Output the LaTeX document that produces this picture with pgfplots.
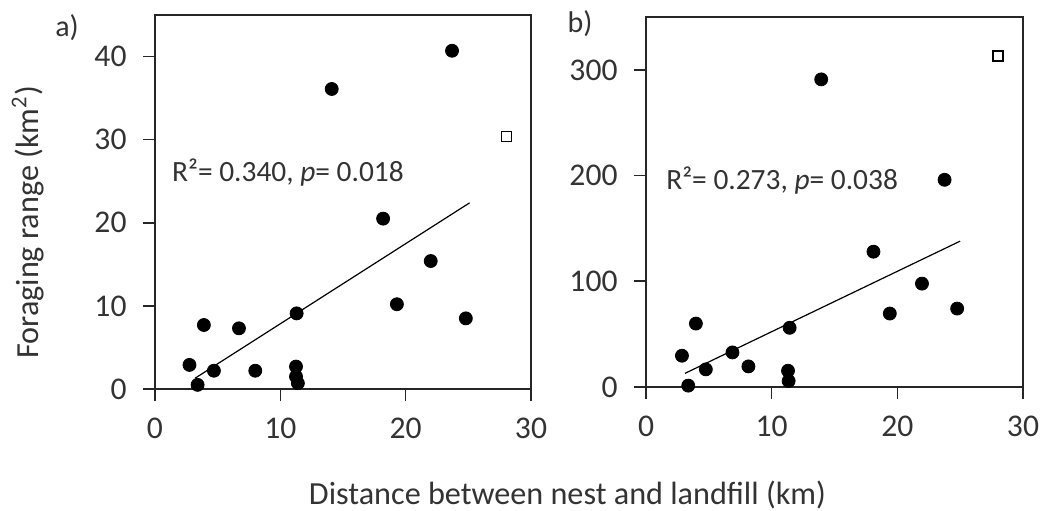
\documentclass[border=0pt]{standalone}
\usepackage{pgfplots}
\pgfplotsset{compat=1.18}
\usepackage{fontspec}
\setmainfont{Carlito}

\pgfplotstableread{
x y
2.75 2.9
3.4 0.5
3.9 7.7
4.7 2.2
6.7 7.3
8.0 2.2
11.3 9.1
11.25 2.7
11.25 1.5
11.4 0.7
14.1 36.1
18.2 20.5
19.3 10.2
22.0 15.4
23.7 40.7
24.8 8.5
}\dataA

\pgfplotstableread{
x y
2.86 29.6
3.36 1.3
3.97 60
4.76 16.7
6.88 32.7
8.15 19.5
11.43 56
11.3 15.4
11.35 5.7
13.94 291
18.1 128
19.4 69.5
21.96 97.8
23.76 196
24.76 74.2
}\dataB

\begin{document}
\begin{tikzpicture}[font=\fontsize{14pt}{16.8pt}\selectfont]
\pgfplotsset{
  every axis/.append style={
    scale only axis,
    xmin=0, xmax=30, xtick={0,10,20,30},
    axis line style={line width=0.8pt, black!85},
    tick style={line width=0.8pt, black!85},
    tick align=outside, xtick pos=bottom, ytick pos=left,
    major tick length=6pt,
    yticklabel style={xshift=-4.7pt},
    xticklabel style={yshift=-5.2pt},
    tick label style={font=\fontsize{15.8pt}{19pt}\selectfont, text=black!80},
    /pgf/number format/assume math mode=true,
    clip=false,
  },
}
\begin{axis}[at={(0pt,0pt)}, anchor=south west, width=188pt, height=187pt,
  ymin=0, ymax=45, ytick={0,10,20,30,40}]
\addplot[black, line width=0.6pt] coordinates {(3.2,1.3) (25.1,22.4)};
\addplot[only marks, mark=*, mark size=3.25pt, black] table {\dataA};
\addplot[only marks, mark=square, mark size=2.5pt, mark options={line width=0.8pt}, black] coordinates {(28.05,30.4)};
\node[anchor=west, text=black!80, inner sep=0pt, font=\fontsize{14.7pt}{17.6pt}\selectfont] at (axis cs:1.34,26.0) {R²= 0.340, \textit{p}= 0.018};
\end{axis}
\begin{axis}[at={(245.5pt,1pt)}, anchor=south west, width=188.5pt, height=185pt,
  ymin=0, ymax=350, ytick={0,100,200,300}]
\addplot[black, line width=0.6pt] coordinates {(3.1,12.9) (25.0,138)};
\addplot[only marks, mark=*, mark size=3.25pt, black] table {\dataB};
\addplot[only marks, mark=square, mark size=2.5pt, mark options={line width=0.8pt}, black] coordinates {(28.0,313)};
\node[anchor=west, text=black!80, inner sep=0pt, font=\fontsize{14.7pt}{17.6pt}\selectfont] at (axis cs:1.59,195) {R²= 0.273, \textit{p}= 0.038};
\end{axis}
\node[text=black!80, font=\fontsize{15pt}{18pt}\selectfont] at (-44pt,180.5pt) {a)};
\node[text=black!80, font=\fontsize{15pt}{18pt}\selectfont] at (212.5pt,182.5pt) {b)};
\node[text=black!80, font=\fontsize{16.1pt}{19.3pt}\selectfont] at (206.25pt,-53pt) {Distance between nest and landfill (km)};
\node[text=black!80, rotate=90, font=\fontsize{16.1pt}{19.3pt}\selectfont] at (-63.5pt,83.25pt) {Foraging range (km\textsuperscript{2})};
\pgfresetboundingbox
\useasboundingbox (-77.5pt,-60.5pt) rectangle (446pt,194.5pt);
\end{tikzpicture}
\end{document}
